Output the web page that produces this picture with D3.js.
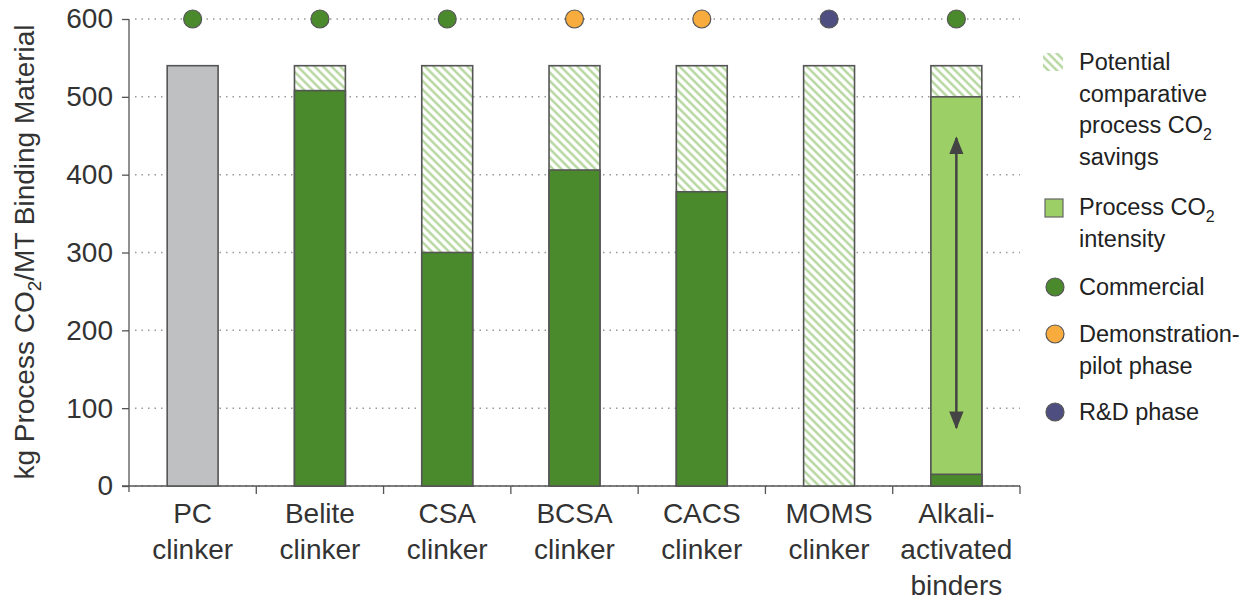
<!DOCTYPE html>
<html><head><meta charset="utf-8">
<script src="https://cdn.jsdelivr.net/npm/d3@7"></script>
<style>body{margin:0;background:#fff;font-family:"Liberation Sans",Arial,sans-serif}</style>
</head><body>
<svg id="c" width="1251" height="600"></svg>
<script>
const categories = [["PC","clinker"],["Belite","clinker"],["CSA","clinker"],["BCSA","clinker"],["CACS","clinker"],["MOMS","clinker"],["Alkali-","activated","binders"]];
const solidValues = [540, 508, 300, 406, 378, 0, 15];
const lightValues = [0, 0, 0, 0, 0, 0, 500];
const totalValues = [540, 540, 540, 540, 540, 540, 540];
const stages = ["Commercial","Commercial","Commercial","Demo","Demo","RD","Commercial"];
const yTicks = [0,100,200,300,400,500,600];
const arrowRange = [75, 447];

const colors = {dark:"#4a8a2c", light:"#9dcf67", gray:"#bfc0c2", hatch:"#aed295", stroke:"#555", Commercial:"#4a8a2c", Demo:"#f7ac3d", RD:"#4f4e80"};

const svg = d3.select("#c");
const mLeft = 129, mRight = 1020, mTop = 19, mBottom = 486;
const x = d3.scaleBand().domain(d3.range(categories.length)).range([mLeft,mRight]).paddingInner(0.6).paddingOuter(0.3);
const xb = d3.scaleBand().domain(d3.range(categories.length)).range([mLeft,mRight]);
const y = d3.scaleLinear().domain([0,600]).range([mBottom,mTop]);

const defs = svg.append("defs");
const pat = defs.append("pattern").attr("id","hatch").attr("patternUnits","userSpaceOnUse").attr("width",6).attr("height",6).attr("patternTransform","rotate(-45)");
pat.append("rect").attr("width",6).attr("height",6).attr("fill","#fff");
pat.append("line").attr("x1",1.5).attr("y1",0).attr("x2",1.5).attr("y2",6).attr("stroke",colors.hatch).attr("stroke-width",2.2);
const mk = defs.append("marker").attr("id","ah").attr("viewBox","0 0 10 10").attr("refX",9).attr("refY",5).attr("markerWidth",18).attr("markerHeight",18).attr("markerUnits","userSpaceOnUse").attr("orient","auto-start-reverse");
mk.append("path").attr("d","M0,1L10,5L0,9Z").attr("fill","#444");

// gridlines
svg.append("g").selectAll("line").data(yTicks).join("line")
  .attr("x1",mLeft+6).attr("x2",mRight).attr("y1",d=>y(d)).attr("y2",d=>y(d))
  .attr("stroke","#999").attr("stroke-width",1.5).attr("stroke-dasharray","1.5,5");

// y axis
const ya = svg.append("g").attr("transform",`translate(${mLeft},0)`).call(d3.axisLeft(y).tickValues(yTicks).tickSize(7).tickPadding(9));
ya.select(".domain").attr("stroke","#555").attr("stroke-width",1.3).attr("d",`M0,${mTop}V${mBottom+6}`);
ya.selectAll(".tick line").attr("stroke","#555").attr("stroke-width",1.3);
ya.selectAll("text").attr("font-size",28).attr("fill","#333").attr("font-family","Liberation Sans, Arial, sans-serif");

// x axis
svg.append("line").attr("x1",mLeft-7).attr("x2",mRight).attr("y1",mBottom).attr("y2",mBottom).attr("stroke","#555").attr("stroke-width",1.3);
svg.append("g").selectAll("line").data(d3.range(1,categories.length+1)).join("line")
  .attr("x1",d=>mLeft+d*xb.step()).attr("x2",d=>mLeft+d*xb.step()).attr("y1",mBottom).attr("y2",mBottom+8)
  .attr("stroke","#555").attr("stroke-width",1.3);

// bars
const g = svg.append("g");
categories.forEach((c,i)=>{
  const bx = x(i), bw = x.bandwidth();
  g.append("rect").attr("x",bx).attr("width",bw).attr("y",y(totalValues[i])).attr("height",y(0)-y(totalValues[i]))
    .attr("fill", i===0 ? colors.gray : "url(#hatch)").attr("stroke",colors.stroke).attr("stroke-width",1.6);
  if(lightValues[i]>0){
    g.append("rect").attr("x",bx).attr("width",bw).attr("y",y(lightValues[i])).attr("height",y(0)-y(lightValues[i]))
      .attr("fill",colors.light).attr("stroke",colors.stroke).attr("stroke-width",1.6);
  }
  if(i>0 && solidValues[i]>0){
    g.append("rect").attr("x",bx).attr("width",bw).attr("y",y(solidValues[i])).attr("height",y(0)-y(solidValues[i]))
      .attr("fill",colors.dark).attr("stroke",colors.stroke).attr("stroke-width",1.6);
  }
});
// arrow
const ai = 6;
svg.append("line").attr("x1",x(ai)+x.bandwidth()/2).attr("x2",x(ai)+x.bandwidth()/2)
  .attr("y1",y(arrowRange[0])).attr("y2",y(arrowRange[1])).attr("stroke","#444").attr("stroke-width",2.5)
  .attr("marker-start","url(#ah)").attr("marker-end","url(#ah)");

// stage dots
svg.append("g").selectAll("circle").data(stages).join("circle")
  .attr("cx",(d,i)=>x(i)+x.bandwidth()/2).attr("cy",y(600)).attr("r",9)
  .attr("fill",d=>colors[d]).attr("stroke","#555").attr("stroke-width",1.2);

// category labels
svg.append("g").selectAll("text").data(categories).join("text")
  .attr("x",(d,i)=>x(i)+x.bandwidth()/2).attr("y",523).attr("text-anchor","middle")
  .attr("font-size",28).attr("fill","#333")
  .each(function(d){ const xx = d3.select(this).attr("x"); d3.select(this).selectAll("tspan").data(d).join("tspan")
    .attr("x",xx).attr("dy",(t,j)=>j===0?0:36).text(t=>t); });

// y title
const yt = svg.append("text").attr("transform","translate(34,252) rotate(-90)").attr("text-anchor","middle")
  .attr("font-size",28).attr("fill","#333");
yt.append("tspan").text("kg Process CO");
yt.append("tspan").attr("font-size",19).attr("dy",7).text("2");
yt.append("tspan").attr("dy",-7).text("/MT Binding Material");

// legend
const lg = svg.append("g").attr("font-size",23.5).attr("fill","#222");
const tx = 1079;
lg.append("rect").attr("x",1043).attr("y",53).attr("width",20).attr("height",18).attr("fill","url(#hatch)");
function lines(arr, y0){ arr.forEach((t,j)=>{ const el = lg.append("text").attr("x",tx).attr("y",y0+j*31.5);
  if(Array.isArray(t)){ el.append("tspan").text(t[0]); el.append("tspan").attr("font-size",16).attr("dy",7).text(t[1]); } else el.text(t); }); }
lines(["Potential","comparative",["process CO","2"],"savings"], 70);
lg.append("rect").attr("x",1045).attr("y",199).attr("width",18).attr("height",18).attr("fill",colors.light).attr("stroke","#666").attr("stroke-width",1.2);
lines([["Process CO","2"],"intensity"], 215);
const leg = [["Commercial",287,["Commercial"]],["Demo",334,["Demonstration-","pilot phase"]],["RD",412,["R&D phase"]]];
leg.forEach(([k,cy,t])=>{
  lg.append("circle").attr("cx",1055).attr("cy",cy).attr("r",9).attr("fill",colors[k]).attr("stroke","#555").attr("stroke-width",1.2);
  lines(t, cy+8);
});
</script>
</body></html>
